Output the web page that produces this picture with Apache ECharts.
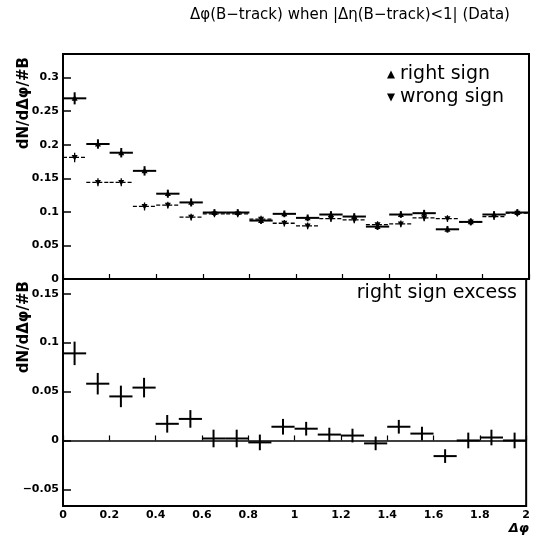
<!DOCTYPE html>
<html>
<head>
<meta charset="utf-8">
<script src="https://cdn.jsdelivr.net/npm/echarts@6/dist/echarts.min.js"></script>
<style>
  html, body { margin: 0; padding: 0; background: #fff; }
  #chart { width: 533px; height: 537px; }
</style>
</head>
<body>
<div id="chart"></div>
<script>
// Δφ bins (width 0.1) and measured distributions
const binWidth = 0.1;
const binCenters = [0.05, 0.15, 0.25, 0.35, 0.45, 0.55, 0.65, 0.75, 0.85, 0.95,
                    1.05, 1.15, 1.25, 1.35, 1.45, 1.55, 1.65, 1.75, 1.85, 1.95];

const rightSign    = [0.269, 0.201, 0.188, 0.161, 0.127, 0.114, 0.099, 0.099, 0.087, 0.097,
                      0.091, 0.096, 0.093, 0.078, 0.096, 0.098, 0.074, 0.085, 0.096, 0.099];
const rightSignErr = [0.009, 0.007, 0.007, 0.007, 0.006, 0.006, 0.005, 0.005, 0.005, 0.005,
                      0.005, 0.005, 0.005, 0.005, 0.005, 0.005, 0.005, 0.005, 0.005, 0.005];

const wrongSign    = [0.181, 0.144, 0.144, 0.108, 0.110, 0.092, 0.097, 0.097, 0.089, 0.083,
                      0.079, 0.090, 0.088, 0.081, 0.082, 0.091, 0.090, 0.085, 0.093, 0.098];
const wrongSignErr = [0.007, 0.006, 0.006, 0.006, 0.005, 0.005, 0.005, 0.005, 0.005, 0.005,
                      0.005, 0.005, 0.005, 0.005, 0.005, 0.005, 0.005, 0.005, 0.005, 0.005];

const excess    = [0.089, 0.058, 0.045, 0.054, 0.017, 0.022, 0.002, 0.002, -0.002, 0.014,
                   0.012, 0.006, 0.005, -0.003, 0.014, 0.007, -0.016, 0.000, 0.003, 0.000];
const excessErr = [0.012, 0.011, 0.011, 0.010, 0.009, 0.009, 0.009, 0.009, 0.008, 0.008,
                   0.007, 0.007, 0.007, 0.007, 0.007, 0.007, 0.007, 0.008, 0.008, 0.008];

// axis ticks
const xTicks = [0, 0.2, 0.4, 0.6, 0.8, 1, 1.2, 1.4, 1.6, 1.8, 2];
const topYTicks = [0, 0.05, 0.1, 0.15, 0.2, 0.25, 0.3];
const bottomYTicks = [-0.05, 0, 0.05, 0.1, 0.15];

const labelFont = { fontFamily: 'DejaVu Sans', fontWeight: 'bold', fontSize: 11, color: '#000' };

function rows(values, errs) {
  return binCenters.map((c, i) => [c, values[i], errs[i]]);
}

// Histogram point: horizontal bar across the bin, vertical error bar, optional marker
function makeRenderer(opts) {
  return function (params, api) {
    const x = api.value(0), y = api.value(1), e = api.value(2);
    const l = api.coord([x - binWidth / 2, y]);
    const r = api.coord([x + binWidth / 2, y]);
    const t = api.coord([x, y + e]);
    const b = api.coord([x, y - e]);
    const style = { stroke: '#000', lineWidth: opts.width, lineDash: opts.dash || null };
    const children = [
      { type: 'line', shape: { x1: l[0], y1: l[1], x2: r[0], y2: r[1] }, style: style },
      { type: 'line', shape: { x1: t[0], y1: t[1], x2: b[0], y2: b[1] },
        style: { stroke: '#000', lineWidth: opts.width } }
    ];
    if (opts.marker) {
      const c = api.coord([x, y]);
      const s = 3;
      const pts = opts.marker === 'up'
        ? [[c[0] - s, c[1] + s * 0.8], [c[0] + s, c[1] + s * 0.8], [c[0], c[1] - s * 1.1]]
        : [[c[0] - s, c[1] - s * 0.8], [c[0] + s, c[1] - s * 0.8], [c[0], c[1] + s * 1.1]];
      children.push({ type: 'polygon', shape: { points: pts }, style: { fill: '#000' } });
    }
    return { type: 'group', children: children };
  };
}

const chart = echarts.init(document.getElementById('chart'), null, { renderer: 'canvas' });

const gridCommon = { left: 63, right: 4, show: true, borderColor: '#000', borderWidth: 2,
                     backgroundColor: 'transparent', containLabel: false };

chart.setOption({
  animation: false,
  backgroundColor: '#fff',
  grid: [
    Object.assign({ top: 54, height: 225 }, gridCommon),
    Object.assign({ top: 279, bottom: 31 }, gridCommon)
  ],
  xAxis: [0, 1].map(gi => ({
    type: 'value', gridIndex: gi, min: 0, max: 2, interval: 0.2,
    axisLine: { show: false },
    splitLine: { show: false },
    axisTick: { inside: true, length: 5, lineStyle: { color: '#000', width: 1.2 } },
    axisLabel: Object.assign({ show: gi === 1, margin: 4,
      customValues: xTicks, formatter: v => String(+v.toFixed(1)) }, labelFont)
  })),
  yAxis: [
    {
      type: 'value', gridIndex: 0, min: 0, max: 0.335,
      axisLine: { show: false }, splitLine: { show: false },
      axisTick: { inside: true, length: 8, customValues: topYTicks, lineStyle: { color: '#000', width: 1.5 } },
      axisLabel: Object.assign({ margin: 4, customValues: topYTicks,
        formatter: v => String(+v.toFixed(2)) }, labelFont)
    },
    {
      type: 'value', gridIndex: 1, min: -0.067, max: 0.165,
      axisLine: { show: false }, splitLine: { show: false },
      axisTick: { inside: true, length: 8, customValues: bottomYTicks, lineStyle: { color: '#000', width: 1.5 } },
      axisLabel: Object.assign({ margin: 4, customValues: bottomYTicks,
        formatter: v => String(+v.toFixed(2)).replace('-', '\u2212') }, labelFont)
    }
  ],
  legend: {
    orient: 'vertical', right: 24, top: 60, itemGap: 4,
    itemWidth: 8, itemHeight: 8,
    textStyle: { fontFamily: 'DejaVu Sans', fontSize: 19, color: '#000' },
    data: [
      { name: 'right sign', icon: 'triangle' },
      { name: 'wrong sign', icon: 'path://M0,0 L10,0 L5,10 Z' }
    ]
  },
  series: [
    {
      name: 'wrong sign', type: 'custom', xAxisIndex: 0, yAxisIndex: 0,
      itemStyle: { color: '#000' },
      renderItem: makeRenderer({ width: 1.3, dash: [4, 2], marker: 'down' }),
      data: rows(wrongSign, wrongSignErr), clip: true
    },
    {
      name: 'right sign', type: 'custom', xAxisIndex: 0, yAxisIndex: 0,
      itemStyle: { color: '#000' },
      renderItem: makeRenderer({ width: 2, marker: 'up' }),
      data: rows(rightSign, rightSignErr), clip: true
    },
    {
      name: 'right sign excess', type: 'custom', xAxisIndex: 1, yAxisIndex: 1,
      itemStyle: { color: '#000' },
      renderItem: makeRenderer({ width: 2 }),
      data: rows(excess, excessErr), clip: true,
      markLine: {
        silent: true, symbol: 'none', label: { show: false },
        lineStyle: { color: '#000', width: 1.5, type: 'solid' },
        data: [{ yAxis: 0 }]
      }
    }
  ],
  graphic: [
    {
      type: 'text', left: 190, top: 8,
      style: { text: '\u0394\u03c6(B\u2212track) when |\u0394\u03b7(B\u2212track)<1| (Data)',
               font: '15px "DejaVu Sans"', fill: '#000' }
    },
    {
      type: 'text', x: 24, y: 57, rotation: Math.PI / 2,
      style: { text: 'dN/d\u0394\u03c6/#B', font: 'bold 15px "DejaVu Sans"', fill: '#000',
               align: 'right', verticalAlign: 'middle' }
    },
    {
      type: 'text', x: 24, y: 281, rotation: Math.PI / 2,
      style: { text: 'dN/d\u0394\u03c6/#B', font: 'bold 15px "DejaVu Sans"', fill: '#000',
               align: 'right', verticalAlign: 'middle' }
    },
    {
      type: 'text', right: 16, top: 284,
      style: { text: 'right sign excess', font: '19px "DejaVu Sans"', fill: '#000' }
    },
    {
      type: 'text', right: 4, top: 522,
      style: { text: '\u0394\u03c6', font: 'italic bold 13px "DejaVu Sans"', fill: '#000' }
    }
  ]
});
</script>
</body>
</html>
